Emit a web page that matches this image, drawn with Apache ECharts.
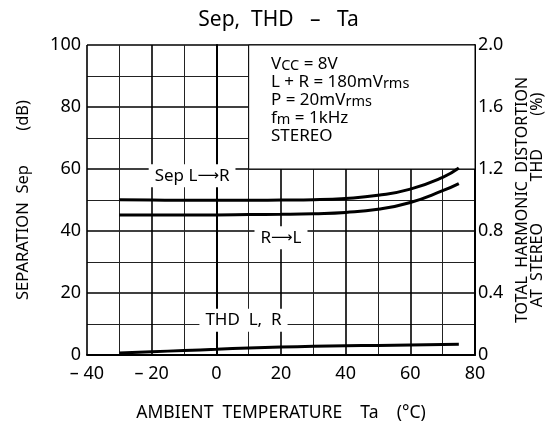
<!DOCTYPE html>
<html>
<head>
<meta charset="utf-8">
<script src="https://cdn.jsdelivr.net/npm/echarts@6/dist/echarts.min.js"></script>
<style>
  html, body { margin: 0; padding: 0; background: #fff; }
  #chart { width: 557px; height: 424px; }
</style>
</head>
<body>
<div id="chart"></div>
<script>
// ambient temperature (°C)
var temps = [-30, -20, -10, 0, 10, 20, 30, 40, 50, 60, 70, 75];
// separation (dB)
var sepLR = [50.1, 50, 49.9, 49.9, 49.9, 50, 50.1, 50.5, 51.5, 53.5, 57.3, 60.3];
var sepRL = [45.2, 45.2, 45.2, 45.2, 45.3, 45.4, 45.6, 46, 47, 49.2, 53, 55.3];
// THD (%)
var thd = [0.013, 0.021, 0.029, 0.037, 0.045, 0.051, 0.056, 0.059, 0.062, 0.065, 0.068, 0.069];

// curve labels [temp, dB, text]
var curveLabels = [
  [-7.5, 57.8, '{t|Sep L}{a|\u27f6}{t|R}'],
  [20, 37.8, '{t|R}{a|\u27f6}{t|L}'],
  [8.4, 11.2, '{t|THD  L,  R}']
];

function pairs(ys) {
  return temps.map(function (t, i) { return [t, ys[i]]; });
}

var FONT = 'Noto Sans';
var chart = echarts.init(document.getElementById('chart'));

var option = {
  backgroundColor: '#fff',
  animation: false,
  textStyle: { fontFamily: FONT, color: '#000' },
  title: {
    text: 'Sep,  THD   \u2013   Ta',
    left: 'center',
    top: 5,
    textStyle: { fontFamily: FONT, fontSize: 21, fontWeight: 'normal', color: '#000' }
  },
  grid: { left: 87, right: 82, top: 45, bottom: 69, outerBoundsMode: 'none' },
  xAxis: {
    type: 'value',
    min: -40, max: 80, interval: 20,
    name: 'AMBIENT  TEMPERATURE    Ta    (\u00b0C)',
    nameLocation: 'middle',
    nameGap: 49,
    nameTextStyle: { fontFamily: FONT, fontSize: 17.5, color: '#000' },
    axisLine: { lineStyle: { color: '#000', width: 2 } },
    axisTick: { show: false },
    axisLabel: {
      fontFamily: FONT, fontSize: 18, color: '#000', margin: 10,
      formatter: function (v) { return v < 0 ? '\u2013 ' + (-v) : String(v); }
    },
    splitLine: { show: true, lineStyle: { color: '#000', width: 1.6 } },
    minorTick: { show: false, splitNumber: 2 },
    minorSplitLine: { show: true, lineStyle: { color: '#222', width: 1 } }
  },
  yAxis: [
    {
      type: 'value',
      min: 0, max: 100, interval: 20,
      name: 'SEPARATION  Sep        (dB)',
      nameLocation: 'middle',
      nameRotate: 90,
      nameGap: 55,
      nameTextStyle: { fontFamily: FONT, fontSize: 16.5, color: '#000' },
      axisLine: { show: true, lineStyle: { color: '#000', width: 2 } },
      axisTick: { show: false },
      axisLabel: { fontFamily: FONT, fontSize: 18, color: '#000', margin: 6 },
      splitLine: { show: true, lineStyle: { color: '#000', width: 1.6 } },
      minorTick: { show: false, splitNumber: 2 },
      minorSplitLine: { show: true, lineStyle: { color: '#222', width: 1 } }
    },
    {
      type: 'value',
      position: 'right',
      min: 0, max: 2.0, interval: 0.4,
      name: 'TOTAL  HARMONIC  DISTORTION\nAT  STEREO          THD        (%)',
      nameLocation: 'middle',
      nameRotate: 90,
      nameGap: 33,
      nameTextStyle: { fontFamily: FONT, fontSize: 16, color: '#000', lineHeight: 15 },
      axisLine: { show: true, lineStyle: { color: '#000', width: 2 } },
      axisTick: { show: false },
      axisLabel: {
        fontFamily: FONT, fontSize: 18, color: '#000', margin: 3,
        formatter: function (v) { return v === 0 ? '0' : v.toFixed(1); }
      },
      splitLine: { show: false }
    }
  ],
  graphic: [
    {
      type: 'text',
      left: 271,
      top: 56,
      z: 100,
      style: {
        text: '{n|V}{s|CC}{n| = 8V}\n{n|L + R = 180mV}{s|rms}\n{n|P = 20mV}{s|rms}\n{n|f}{s|m}{n| = 1kHz}\n{n|STEREO}',
        rich: {
          n: { fontFamily: FONT, fontSize: 17, color: '#000', lineHeight: 18 },
          s: { fontFamily: FONT, fontSize: 14.5, color: '#000', lineHeight: 7, verticalAlign: 'bottom' }
        }
      }
    }
  ],
  series: [
    {
      name: 'box',
      type: 'line',
      data: [],
      z: 1,
      markArea: {
        silent: true,
        itemStyle: { color: '#fff', borderColor: '#000', borderWidth: 1 },
        data: [[{ coord: [10, 60] }, { coord: [80, 100] }]]
      },
      markPoint: {
        silent: true,
        symbol: 'rect',
        symbolSize: 1,
        itemStyle: { color: '#fff' },
        data: curveLabels.map(function (d) { return { coord: [d[0], d[1]], value: d[2] }; }),
        label: {
          show: true,
          position: 'inside',
          color: '#000',
          backgroundColor: '#fff',
          padding: [3, 6, 3, 6],
          formatter: function (p) { return p.value; },
          rich: {
            t: { fontFamily: FONT, fontSize: 17, color: '#000' },
            a: { fontFamily: 'DejaVu Sans', fontSize: 15, color: '#000' }
          }
        }
      }
    },
    {
      name: 'Sep L\u2192R',
      type: 'line',
      smooth: true,
      showSymbol: false,
      z: 5,
      data: pairs(sepLR),
      lineStyle: { color: '#000', width: 3 }
    },
    {
      name: 'R\u2192L',
      type: 'line',
      smooth: true,
      showSymbol: false,
      z: 5,
      data: pairs(sepRL),
      lineStyle: { color: '#000', width: 3 }
    },
    {
      name: 'THD L, R',
      type: 'line',
      yAxisIndex: 1,
      smooth: true,
      showSymbol: false,
      z: 5,
      data: pairs(thd),
      lineStyle: { color: '#000', width: 3 }
    }
  ]
};

chart.setOption(option);
</script>
</body>
</html>
